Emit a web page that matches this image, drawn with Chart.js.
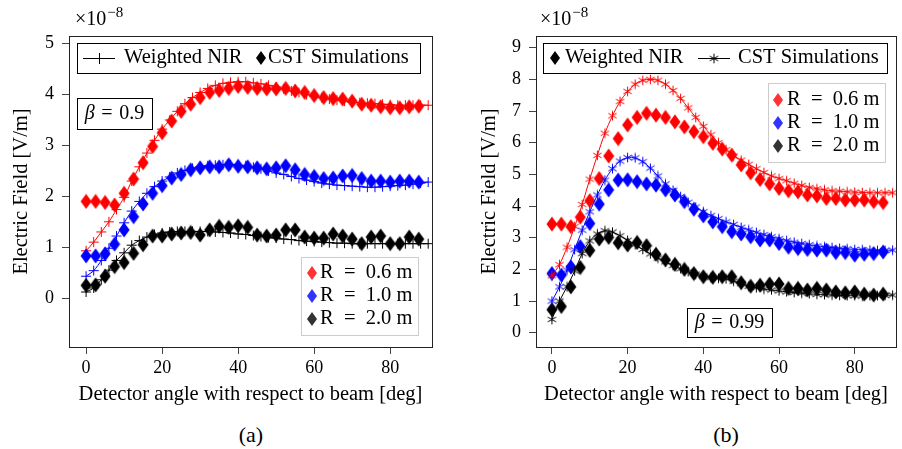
<!DOCTYPE html>
<html>
<head>
<meta charset="utf-8">
<script src="https://cdn.jsdelivr.net/npm/chart.js@4.4.1/dist/chart.umd.min.js"></script>
<style>
  body { margin: 0; background: #fff; width: 902px; height: 449px; position: relative; overflow: hidden; font-family: "Liberation Serif", serif; }
  .panel { position: absolute; top: 0; width: 451px; height: 410px; }
  .cap { position: absolute; top: 422px; width: 60px; font-size: 22px; text-align: center; color: #000; }
</style>
</head>
<body>
<div class="panel" style="left:0"><canvas id="chartA"></canvas></div>
<div class="panel" style="left:451px"><canvas id="chartB"></canvas></div>
<div class="cap" style="left:221px">(a)</div>
<div class="cap" style="left:696px">(b)</div>
<script>
// angles (deg)
const diamondAngles = [0, 2.5, 5, 7.5, 10, 12.5, 15, 17.5, 20, 22.5, 25, 27.5, 30, 32.5, 35, 37.5, 40, 42.5,
  45, 47.5, 50, 52.5, 55, 57.5, 60, 62.5, 65, 67.5, 70, 72.5, 75, 77.5, 80, 82.5, 85, 87.5];
const lineAngles = [0, 2, 4, 6, 8, 10, 12, 14, 16, 18, 20, 22, 24, 26, 28, 30, 32, 34, 36, 38, 40, 42, 44,
  46, 48, 50, 52, 54, 56, 58, 60, 62, 64, 66, 68, 70, 72, 74, 76, 78, 80, 82, 84, 86, 88, 90];
const xTickValues = [0, 20, 40, 60, 80];
const yTicksA = [0, 1, 2, 3, 4, 5];
const yTicksB = [0, 1, 2, 3, 4, 5, 6, 7, 8, 9];
const radiusLabels = ['R = 0.6 m', 'R = 1.0 m', 'R = 2.0 m'];

// (a) beta = 0.9, field in units of 1e-8 V/m
// CST Simulations (diamonds)
const cstA_06 = [1.90, 1.90, 1.88, 1.83, 2.06, 2.34, 2.66, 2.98, 3.25, 3.48, 3.67, 3.81, 3.94, 4.04, 4.08, 4.12, 4.16, 4.14,
  4.12, 4.11, 4.11, 4.12, 4.07, 4.04, 3.98, 3.94, 3.92, 3.91, 3.87, 3.81, 3.79, 3.76, 3.74, 3.74, 3.76, 3.77];
const cstA_10 = [0.83, 0.83, 0.87, 1.06, 1.34, 1.60, 1.85, 2.06, 2.21, 2.36, 2.43, 2.52, 2.56, 2.58, 2.58, 2.62, 2.59, 2.58,
  2.56, 2.54, 2.56, 2.60, 2.52, 2.43, 2.39, 2.35, 2.36, 2.40, 2.41, 2.35, 2.30, 2.30, 2.28, 2.30, 2.30, 2.28];
const cstA_20 = [0.25, 0.26, 0.43, 0.62, 0.70, 0.88, 1.05, 1.22, 1.22, 1.26, 1.28, 1.29, 1.24, 1.34, 1.41, 1.39, 1.42, 1.39,
  1.24, 1.22, 1.24, 1.34, 1.34, 1.20, 1.18, 1.18, 1.26, 1.22, 1.16, 1.07, 1.20, 1.22, 1.07, 1.07, 1.20, 1.16];
// Weighted NIR (line with +)
const nirA_06 = [0.93, 1.10, 1.30, 1.50, 1.74, 1.98, 2.30, 2.58, 2.85, 3.10, 3.32, 3.50, 3.67, 3.82, 3.94, 4.04, 4.12, 4.18,
  4.22, 4.24, 4.25, 4.25, 4.23, 4.21, 4.18, 4.15, 4.11, 4.07, 4.04, 4.00, 3.97, 3.94, 3.91, 3.89, 3.87, 3.85, 3.84,
  3.83, 3.82, 3.81, 3.80, 3.79, 3.79, 3.79, 3.79, 3.79];
const nirA_10 = [0.43, 0.54, 0.74, 0.98, 1.22, 1.48, 1.71, 1.90, 2.06, 2.19, 2.30, 2.38, 2.46, 2.51, 2.55, 2.58, 2.60, 2.61,
  2.62, 2.62, 2.61, 2.60, 2.57, 2.54, 2.50, 2.46, 2.43, 2.39, 2.35, 2.32, 2.29, 2.26, 2.24, 2.22, 2.21, 2.20, 2.19,
  2.18, 2.18, 2.19, 2.20, 2.21, 2.22, 2.24, 2.26, 2.28];
const nirA_20 = [0.12, 0.20, 0.36, 0.55, 0.74, 0.89, 1.04, 1.13, 1.20, 1.25, 1.28, 1.30, 1.31, 1.31, 1.31, 1.31, 1.31, 1.30,
  1.29, 1.28, 1.26, 1.25, 1.23, 1.21, 1.19, 1.18, 1.16, 1.15, 1.13, 1.12, 1.11, 1.10, 1.09, 1.08, 1.08, 1.07, 1.07,
  1.07, 1.07, 1.07, 1.07, 1.07, 1.07, 1.07, 1.07, 1.07];

// (b) beta = 0.99
// Weighted NIR (diamonds)
const nirB_06 = [3.43, 3.43, 3.35, 3.65, 4.17, 4.87, 5.58, 6.13, 6.56, 6.80, 6.93, 6.87, 6.80, 6.66, 6.50, 6.35, 6.19, 5.98,
  5.80, 5.61, 5.30, 5.05, 4.84, 4.70, 4.56, 4.48, 4.45, 4.35, 4.32, 4.24, 4.24, 4.19, 4.19, 4.19, 4.14, 4.11];
const nirB_10 = [1.87, 1.82, 2.08, 2.72, 3.45, 4.06, 4.51, 4.82, 4.83, 4.77, 4.70, 4.66, 4.51, 4.35, 4.14, 3.90, 3.69, 3.50,
  3.35, 3.19, 3.12, 3.03, 2.93, 2.93, 2.82, 2.70, 2.66, 2.63, 2.61, 2.61, 2.53, 2.53, 2.45, 2.48, 2.50, 2.55];
const nirB_20 = [0.73, 0.83, 1.45, 2.06, 2.60, 2.96, 3.01, 2.84, 2.77, 2.85, 2.75, 2.48, 2.30, 2.16, 2.00, 1.87, 1.77, 1.75,
  1.77, 1.77, 1.58, 1.47, 1.50, 1.54, 1.54, 1.40, 1.40, 1.35, 1.40, 1.35, 1.29, 1.26, 1.29, 1.22, 1.19, 1.22];
// CST Simulations (line with asterisks)
const cstB_06 = [1.80, 2.15, 2.70, 3.35, 4.05, 4.85, 5.60, 6.30, 6.85, 7.30, 7.62, 7.85, 7.97, 8.00, 7.97, 7.85, 7.65, 7.40,
  7.10, 6.80, 6.52, 6.25, 6.00, 5.78, 5.58, 5.45, 5.32, 5.18, 5.06, 4.95, 4.87, 4.80, 4.72, 4.65, 4.59, 4.55, 4.51,
  4.48, 4.47, 4.45, 4.44, 4.43, 4.42, 4.42, 4.42, 4.42];
const cstB_10 = [1.00, 1.45, 1.98, 2.62, 3.24, 3.82, 4.35, 4.82, 5.18, 5.42, 5.53, 5.52, 5.40, 5.20, 4.95, 4.70, 4.50, 4.30,
  4.12, 3.97, 3.82, 3.70, 3.60, 3.50, 3.42, 3.33, 3.25, 3.17, 3.10, 3.03, 2.97, 2.91, 2.86, 2.82, 2.78, 2.74, 2.71,
  2.69, 2.67, 2.65, 2.63, 2.62, 2.61, 2.60, 2.60, 2.61];
const cstB_20 = [0.42, 1.00, 1.45, 1.95, 2.50, 2.90, 3.12, 3.22, 3.18, 3.06, 2.92, 2.78, 2.63, 2.49, 2.36, 2.24, 2.12, 2.02,
  1.93, 1.85, 1.79, 1.74, 1.72, 1.70, 1.63, 1.55, 1.47, 1.42, 1.38, 1.35, 1.32, 1.29, 1.27, 1.25, 1.23, 1.21, 1.20,
  1.19, 1.18, 1.17, 1.17, 1.16, 1.17, 1.17, 1.18, 1.19];

const FONT = '"Liberation Serif", serif';
const LABEL_SIZE = 20.5;
const RED = '#ff0000', BLUE = '#0000ff', BLACK = '#000000';
const LEG_COLORS = ['#ff3333', '#3333ff', '#333333'];

function pts(xs, ys) {
  return ys.map((y, i) => ({ x: xs[i], y: y }));
}

// tall diamond marker, like the pgfplots one
function diamondMarker(color) {
  const c = document.createElement('canvas');
  c.width = 12; c.height = 16;
  const g = c.getContext('2d');
  g.fillStyle = color;
  g.beginPath();
  g.moveTo(6, 0.5); g.lineTo(11.5, 8); g.lineTo(6, 15.5); g.lineTo(0.5, 8);
  g.closePath();
  g.fill();
  return c;
}

// six-armed asterisk
function asteriskMarker(color) {
  const c = document.createElement('canvas');
  c.width = 11; c.height = 11;
  const g = c.getContext('2d');
  g.strokeStyle = color;
  g.lineWidth = 1;
  g.beginPath();
  for (const d of [90, 30, 150]) {
    const r = d * Math.PI / 180;
    g.moveTo(5.5 + 4.8 * Math.cos(r), 5.5 - 4.8 * Math.sin(r));
    g.lineTo(5.5 - 4.8 * Math.cos(r), 5.5 + 4.8 * Math.sin(r));
  }
  g.stroke();
  return c;
}

function diamondSet(data, color) {
  return {
    data: pts(diamondAngles, data), showLine: false,
    pointStyle: diamondMarker(color), pointRadius: 5, borderColor: color, backgroundColor: color
  };
}
function plusLine(data, color) {
  return {
    data: pts(lineAngles, data), showLine: true, borderColor: color, borderWidth: 1,
    pointStyle: 'cross', pointRadius: 5, pointBorderWidth: 1, pointBorderColor: color, tension: 0.3
  };
}
function starLine(data, color) {
  return {
    data: pts(lineAngles, data), showLine: true, borderColor: color, borderWidth: 1,
    pointStyle: asteriskMarker(color), pointRadius: 5, tension: 0.3
  };
}

// drawing helpers for legends and labels
function diamond(ctx, x, y, color) {
  ctx.fillStyle = color;
  ctx.beginPath();
  ctx.moveTo(x, y - 7); ctx.lineTo(x + 5, y); ctx.lineTo(x, y + 7); ctx.lineTo(x - 5, y);
  ctx.closePath();
  ctx.fill();
}
function box(ctx, x, y, w, h, stroke) {
  ctx.fillStyle = '#fff';
  ctx.fillRect(x, y, w, h);
  ctx.strokeStyle = stroke;
  ctx.lineWidth = 1;
  ctx.strokeRect(x + 0.5, y + 0.5, w, h);
}
function text(ctx, s, x, y, size, style) {
  ctx.fillStyle = '#000';
  ctx.font = (style || '') + ' ' + size + 'px ' + FONT;
  ctx.textAlign = 'left';
  ctx.textBaseline = 'middle';
  ctx.fillText(s, x, y);
}
// math-style label: wider spaces round the equals sign
function mathLabel(s, sp) {
  return s.replace(' = ', sp + '=' + sp);
}
function exponent(ctx, x) {
  ctx.fillStyle = '#000';
  ctx.textAlign = 'left';
  ctx.textBaseline = 'alphabetic';
  ctx.font = '20px ' + FONT;
  ctx.fillText('\u00d710', x, 25);
  const w = ctx.measureText('\u00d710').width;
  ctx.font = '15px ' + FONT;
  ctx.fillText('\u22128', x + w + 1, 17);
}
function beta(ctx, cx, cy, value) {
  const size = 20;
  ctx.fillStyle = '#000';
  ctx.textBaseline = 'middle';
  ctx.font = 'italic ' + size + 'px ' + FONT;
  const wb = ctx.measureText('\u03b2').width;
  ctx.font = size + 'px ' + FONT;
  const rest = mathLabel(' = ' + value, '\u2004');
  const wr = ctx.measureText(rest).width;
  const x0 = cx - (wb + wr) / 2;
  ctx.textAlign = 'left';
  ctx.font = 'italic ' + size + 'px ' + FONT;
  ctx.fillText('\u03b2', x0, cy);
  ctx.font = size + 'px ' + FONT;
  ctx.fillText(rest, x0 + wb, cy);
}
function radiusLegend(ctx, x, y, w, h, rows, dx, tx) {
  box(ctx, x, y, w, h, '#cccccc');
  radiusLabels.forEach((lab, i) => {
    diamond(ctx, x + dx, rows[i], LEG_COLORS[i]);
    text(ctx, mathLabel(lab, '\u2002'), x + tx, rows[i], LABEL_SIZE);
  });
}
function frame(ctx, a) {
  ctx.strokeStyle = '#222';
  ctx.lineWidth = 1;
  ctx.strokeRect(Math.round(a.left) + 0.5, Math.round(a.top) + 0.5,
    Math.round(a.right - a.left), Math.round(a.bottom - a.top));
}

function makeChart(id, cfg) {
  return new Chart(document.getElementById(id), {
    type: 'line',
    data: { datasets: cfg.datasets },
    options: {
      responsive: true,
      maintainAspectRatio: false,
      animation: false,
      layout: { padding: cfg.padding },
      plugins: { legend: { display: false }, tooltip: { enabled: false } },
      scales: {
        x: {
          type: 'linear', min: cfg.xMin, max: cfg.xMax,
          afterBuildTicks: s => { s.ticks = xTickValues.map(v => ({ value: v })); },
          afterFit: s => { s.height = 63; },
          grid: { drawOnChartArea: false, tickLength: 7, color: '#444' },
          border: { color: '#222' },
          ticks: { color: '#000', font: { family: FONT, size: 18 }, padding: 3, maxRotation: 0 },
          title: {
            display: true, text: 'Detector angle with respect to beam [deg]', color: '#000',
            font: { family: FONT, size: 20.5 }, padding: { top: 0, bottom: 3 }
          }
        },
        y: {
          type: 'linear', min: cfg.yMin, max: cfg.yMax,
          afterBuildTicks: s => { s.ticks = cfg.yTicks.map(v => ({ value: v })); },
          afterFit: s => { s.width = cfg.yWidth; },
          grid: { drawOnChartArea: false, tickLength: 7, color: '#444' },
          border: { color: '#222' },
          ticks: { color: '#000', font: { family: FONT, size: 18 }, padding: 8 },
          title: {
            display: true, text: 'Electric Field [V/m]', color: '#000',
            font: { family: FONT, size: 20.5 }, padding: { top: cfg.yTitlePad, bottom: 0 }
          }
        }
      }
    },
    plugins: [{
      id: 'decor',
      afterDraw: chart => {
        const ctx = chart.ctx;
        ctx.save();
        frame(ctx, chart.chartArea);
        cfg.decorate(ctx);
        ctx.restore();
      }
    }]
  });
}

// (a) diamonds drawn over lines
makeChart('chartA', {
  datasets: [
    diamondSet(cstA_20, BLACK), diamondSet(cstA_10, BLUE), diamondSet(cstA_06, RED),
    plusLine(nirA_20, BLACK), plusLine(nirA_10, BLUE), plusLine(nirA_06, RED)
  ],
  padding: { left: 0, top: 36, right: 19, bottom: 0 },
  xMin: -4.5, xMax: 91, yMin: -0.96, yMax: 5.15, yTicks: yTicksA, yWidth: 69, yTitlePad: 9.5,
  decorate: ctx => {
    exponent(ctx, 75);
    box(ctx, 77, 43, 343, 30, '#000');
    ctx.strokeStyle = '#000'; ctx.lineWidth = 1;
    ctx.beginPath();
    ctx.moveTo(83, 58.5); ctx.lineTo(115, 58.5);
    ctx.moveTo(99.5, 53); ctx.lineTo(99.5, 64);
    ctx.moveTo(94, 58.5); ctx.lineTo(105, 58.5);
    ctx.stroke();
    text(ctx, 'Weighted NIR', 124, 58, LABEL_SIZE);
    diamond(ctx, 261, 58, '#000');
    text(ctx, 'CST Simulations', 268, 58, LABEL_SIZE);
    box(ctx, 77, 98, 75, 31, '#000');
    beta(ctx, 114.5, 114, '0.9');
    radiusLegend(ctx, 301, 257, 117, 78, [273, 296, 319], 11, 19);
  }
});

// (b) lines drawn over diamonds
makeChart('chartB', {
  datasets: [
    starLine(cstB_20, BLACK), starLine(cstB_10, BLUE), starLine(cstB_06, RED),
    diamondSet(nirB_20, BLACK), diamondSet(nirB_10, BLUE), diamondSet(nirB_06, RED)
  ],
  padding: { left: 0, top: 36, right: 5, bottom: 0 },
  xMin: -4.2, xMax: 90.9, yMin: -0.45, yMax: 9.37, yTicks: yTicksB, yWidth: 85, yTitlePad: 26.5,
  decorate: ctx => {
    exponent(ctx, 89);
    box(ctx, 92, 43, 344, 30, '#000');
    diamond(ctx, 104, 58, '#000');
    text(ctx, 'Weighted NIR', 114, 58, LABEL_SIZE);
    ctx.strokeStyle = '#000'; ctx.lineWidth = 1;
    ctx.beginPath();
    ctx.moveTo(247, 58.5); ctx.lineTo(279, 58.5);
    ctx.stroke();
    ctx.drawImage(asteriskMarker('#000'), 263 - 5.5, 58.5 - 5.5);
    text(ctx, 'CST Simulations', 287, 58, LABEL_SIZE);
    radiusLegend(ctx, 317, 83, 117, 79, [100, 123, 146], 10, 19);
    box(ctx, 236, 308, 85, 29, '#000');
    beta(ctx, 278.5, 323, '0.99');
  }
});
</script>
</body>
</html>
